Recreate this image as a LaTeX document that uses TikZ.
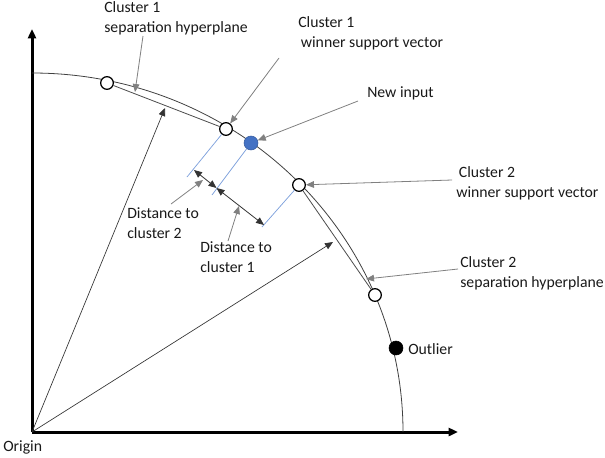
\documentclass[tikz,border=0pt]{standalone}
\usepackage{fontspec}
\setmainfont{Carlito}
\usepackage{tikz}
\usetikzlibrary{arrows.meta,calc,positioning}

\definecolor{inblue}{HTML}{4472C4}
\definecolor{projblue}{HTML}{7DA0DC}

\tikzset{
  hollow/.style={circle,draw=black,line width=0.95pt,fill=white,minimum size=9.5pt,inner sep=0pt},
  solid/.style={circle,draw=black,fill=black,minimum size=10.5pt,inner sep=0pt},
  newpt/.style={circle,draw=inblue!80!black,fill=inblue,minimum size=10.5pt,inner sep=0pt},
  lbl/.style={anchor=west,inner sep=0pt,align=left,text=black!90},
  ptr/.style={draw=black!50,line width=0.6pt,-{Triangle[length=6pt,width=5pt]}},
  vec/.style={draw=black!80,line width=0.5pt,-{Triangle[length=6pt,width=5pt]}},
  dist/.style={draw=black!80,line width=0.6pt,{Triangle[length=6pt,width=5pt]}-{Triangle[length=6pt,width=5pt]}},
  proj/.style={draw=projblue,line width=0.55pt},
  hyp/.style={draw=black!70,line width=0.6pt},
  axis/.style={line width=2.25pt,-{Triangle[length=7pt,width=6pt]}}
}

\begin{document}
\begin{tikzpicture}[x=0.75pt,y=-0.75pt,font=\fontsize{11.8}{15.2}\selectfont]
  \useasboundingbox (0,0) rectangle (605,457);

  % axes
  \coordinate (O) at (32,432);
  \coordinate (ytip) at (32,29);
  \coordinate (xtip) at (458,432);
  \draw[axis] (O) -- (ytip);
  \draw[axis] (O) -- (xtip);
  \node[lbl] (orig) at (3,447) {Origin};

  % boundary of the cluster region
  \draw[black!75,line width=0.6pt] (32,73) arc[start angle=-90,end angle=0,x radius=371,y radius=359];

  % points on the boundary
  \node[hollow] (h1) at (107,83) {};
  \node[hollow] (w1) at (226,129) {};
  \node[newpt] (new) at (251,143) {};
  \node[hollow] (w2) at (299,185) {};
  \node[hollow] (h2) at (375,295) {};
  \node[solid] (out) at (396,348) {};

  % separation hyperplanes
  \draw[hyp] (h1) -- (w1);
  \draw[hyp] (w2) -- (h2);

  % distance projections
  \coordinate (p1) at (187,177);
  \coordinate (p2) at (212,195);
  \coordinate (p3) at (262,227);
  \draw[proj] (w1) -- (p1);
  \draw[proj] (new) -- (p2);
  \draw[proj] (w2) -- (p3);
  \coordinate (d2a) at (194,170);
  \coordinate (mid) at (216.5,188);
  \coordinate (d1b) at (264,225);
  \draw[dist] (d2a) -- (mid);
  \draw[dist] (mid) -- (d1b);

  % vectors from the origin
  \coordinate (t1) at (165,108);
  \coordinate (t2) at (333,242);
  \draw[vec] (O) -- (t1);
  \draw[vec] (O) -- (t2);

  % labels
  \node[lbl] (c1h) at (104,18) {Cluster 1\\separation hyperplane};
  \node[lbl] (c1w) at (298,33) {Cluster 1\\\,winner support vector};
  \node[lbl] (ni) at (367,93) {New input};
  \node[lbl] (c2w) at (456,183) {\,Cluster 2\\winner support vector};
  \node[lbl] (c2h) at (460,273) {Cluster 2\\separation hyperplane};
  \node[lbl] (ol) at (408,349) {Outlier};
  \node[lbl] (d2) at (127,223) {Distance to\\cluster 2};
  \node[lbl] (d1) at (200,257) {Distance to\\cluster 1};

  % pointers
  \coordinate (a1) at (143,36);
  \coordinate (b1) at (135,92);
  \coordinate (a2) at (279,58);
  \coordinate (a3) at (358,101);
  \coordinate (a4) at (452,180);
  \coordinate (a5) at (458,269);
  \coordinate (b5) at (366,279);
  \coordinate (a6) at (171,204);
  \coordinate (b6) at (203,180);
  \coordinate (a7) at (228,241);
  \coordinate (b7) at (239,206);
  \draw[ptr] (a1) -- (b1);
  \draw[ptr] (a2) -- (w1);
  \draw[ptr] (a3) -- (new);
  \draw[ptr] (a4) -- (w2);
  \draw[ptr] (a5) -- (b5);
  \draw[ptr] (a6) -- (b6);
  \draw[ptr] (a7) -- (b7);
\end{tikzpicture}
\end{document}
